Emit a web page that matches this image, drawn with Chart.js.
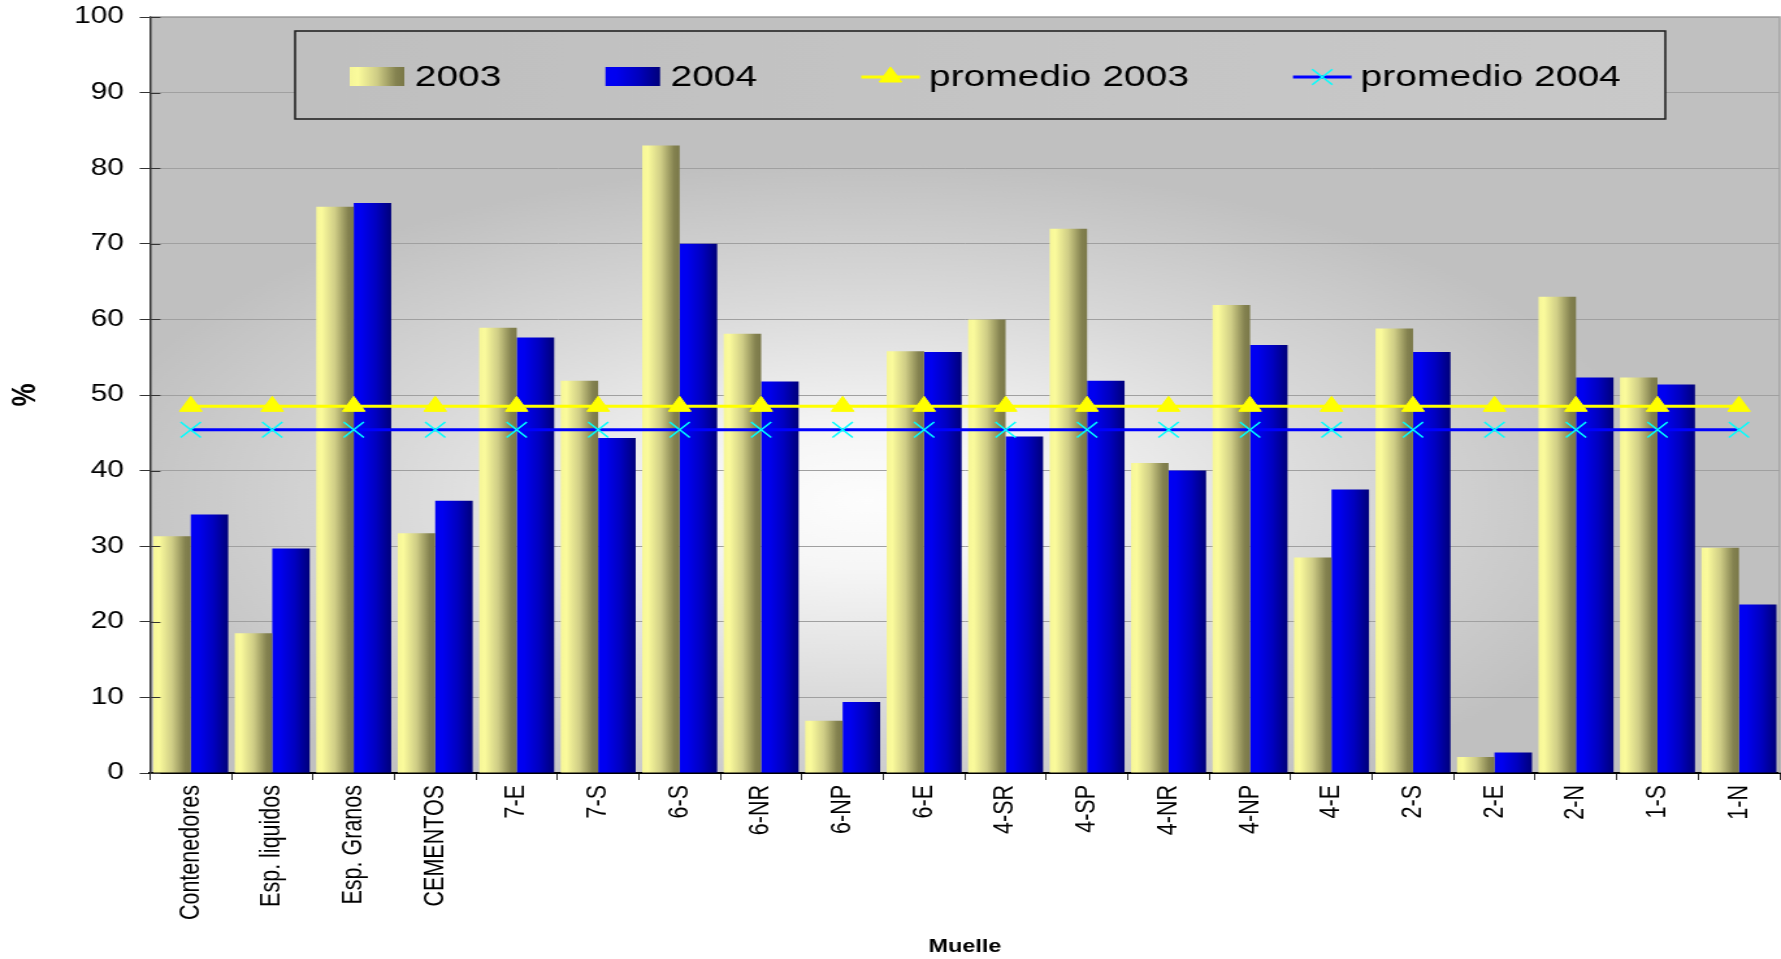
<!DOCTYPE html>
<html>
<head>
<meta charset="utf-8">
<title>Ocupación por muelle</title>
<script src="https://cdn.jsdelivr.net/npm/chart.js@4.4.0/dist/chart.umd.min.js"></script>
<style>
  html, body { margin: 0; padding: 0; background: #fff; overflow: hidden; }
</style>
</head>
<body>
<!-- the original picture is stretched sideways, so the canvas is drawn narrower and widened by css -->
<canvas id="muelleChart" width="1370" height="959" style="display:block;width:1781px;height:959px;"></canvas>
<script>
var categorias = ['Contenedores', 'Esp. liquidos', 'Esp. Granos', 'CEMENTOS', '7-E', '7-S', '6-S', '6-NR', '6-NP', '6-E',
                  '4-SR', '4-SP', '4-NR', '4-NP', '4-E', '2-S', '2-E', '2-N', '1-S', '1-N'];
var valores2003 = [31.3, 18.5, 74.9, 31.7, 58.9, 51.9, 83.0, 58.1, 6.9, 55.8, 60.0, 72.0, 41.0, 61.9, 28.5, 58.8, 2.1, 63.0, 52.3, 29.8];
var valores2004 = [34.2, 29.7, 75.4, 36.0, 57.6, 44.3, 70.0, 51.8, 9.4, 55.7, 44.5, 51.9, 40.0, 56.6, 37.5, 55.7, 2.7, 52.3, 51.4, 22.3];
var promedio2003 = [48.5, 48.5, 48.5, 48.5, 48.5, 48.5, 48.5, 48.5, 48.5, 48.5, 48.5, 48.5, 48.5, 48.5, 48.5, 48.5, 48.5, 48.5, 48.5, 48.5];
var promedio2004 = [45.4, 45.4, 45.4, 45.4, 45.4, 45.4, 45.4, 45.4, 45.4, 45.4, 45.4, 45.4, 45.4, 45.4, 45.4, 45.4, 45.4, 45.4, 45.4, 45.4];
var ticksY = [0, 10, 20, 30, 40, 50, 60, 70, 80, 90, 100];

var fuente = '"Liberation Sans", Arial, sans-serif';
var anchoGrupo = 0.92;

// colour stops for the bar shading (left to right)
var paradas2003 = [[0, '#f6f698'], [0.15, '#fbfb9c'], [0.5, '#cfcd86'], [0.85, '#848250'], [1, '#7a7848']];
var paradas2004 = [[0, '#0000f5'], [0.2, '#0000f0'], [0.6, '#0000c0'], [1, '#00007a']];

Chart.defaults.font.family = fuente;
Chart.defaults.color = '#000';

// gradient across each single bar, built from the x scale
function degradado(paradas, serie) {
  return function(context) {
    var chart = context.chart;
    var xs = chart.scales.x;
    if (context.type !== 'data' || !xs) {
      return paradas[1][1];
    }
    var anchoCat = (xs.right - xs.left) / categorias.length;
    var anchoBarra = anchoCat * anchoGrupo / 2;
    var izq = xs.getPixelForValue(context.dataIndex) - anchoCat * anchoGrupo / 2 + serie * anchoBarra;
    if (!isFinite(izq) || !isFinite(anchoBarra) || anchoBarra <= 0) {
      return paradas[1][1];
    }
    var g = chart.ctx.createLinearGradient(izq, 0, izq + anchoBarra, 0);
    paradas.forEach(function(p) { g.addColorStop(p[0], p[1]); });
    return g;
  };
}

// grey "from centre" fill of the plot area
var fondoPlugin = {
  id: 'fondo',
  beforeDraw: function(chart) {
    var ctx = chart.ctx, a = chart.chartArea;
    ctx.save();
    ctx.beginPath();
    ctx.rect(a.left, a.top, a.right - a.left, a.bottom - a.top);
    ctx.clip();
    ctx.translate(a.left + (a.right - a.left) * 0.44, a.top + (a.bottom - a.top) * 0.64);
    ctx.scale(1.8, 1);
    var g = ctx.createRadialGradient(0, 0, 0, 0, 0, 340);
    g.addColorStop(0, '#fdfdfd');
    g.addColorStop(0.2, '#f6f6f6');
    g.addColorStop(0.6, '#d9d9d9');
    g.addColorStop(1, '#c0c0c0');
    ctx.fillStyle = g;
    ctx.fillRect(-2000, -2000, 4000, 4000);
    ctx.restore();
  }
};

// grey frame on top and right of the plot, then the boxed legend
var marcoPlugin = {
  id: 'marco',
  afterDraw: function(chart) {
    var ctx = chart.ctx, a = chart.chartArea;
    ctx.save();
    ctx.strokeStyle = '#a0a0a0';
    ctx.lineWidth = 1.5;
    ctx.beginPath();
    ctx.moveTo(a.left, a.top);
    ctx.lineTo(a.right, a.top);
    ctx.lineTo(a.right, a.bottom);
    ctx.stroke();

    // y ticks cross the axis line in the original
    ctx.strokeStyle = '#333';
    ctx.lineWidth = 1;
    var ys = chart.scales.y;
    ticksY.forEach(function(v) {
      var py = Math.round(ys.getPixelForValue(v)) + 0.5;
      ctx.beginPath();
      ctx.moveTo(a.left, py);
      ctx.lineTo(a.left + 8, py);
      ctx.stroke();
    });

    var caja = { x: 227, y: 31, w: 1054, h: 88 };
    var gl = ctx.createLinearGradient(caja.x, caja.y, caja.x + caja.w, caja.y + caja.h);
    gl.addColorStop(0, '#bfbfbf');
    gl.addColorStop(1, '#c9c9c9');
    ctx.fillStyle = gl;
    ctx.fillRect(caja.x, caja.y, caja.w, caja.h);
    ctx.strokeStyle = '#1a1a1a';
    ctx.lineWidth = 1.5;
    ctx.strokeRect(caja.x, caja.y, caja.w, caja.h);

    ctx.font = '30px ' + fuente;
    ctx.textBaseline = 'alphabetic';
    var x = caja.x + 42;
    var yMedio = 77;
    chart.data.datasets.forEach(function(ds, i) {
      var textoX;
      if (ds.type === 'bar') {
        var paradas = i === 0 ? paradas2003 : paradas2004;
        var g = ctx.createLinearGradient(x, 0, x + 42, 0);
        paradas.forEach(function(p) { g.addColorStop(p[0], p[1]); });
        ctx.fillStyle = g;
        ctx.fillRect(x, 67, 42, 19);
        textoX = x + 50;
      } else {
        ctx.strokeStyle = ds.borderColor;
        ctx.lineWidth = ds.borderWidth;
        ctx.beginPath();
        ctx.moveTo(x, yMedio);
        ctx.lineTo(x + 45, yMedio);
        ctx.stroke();
        ctx.fillStyle = ds.pointBackgroundColor;
        ctx.strokeStyle = ds.pointBorderColor;
        ctx.lineWidth = ds.pointBorderWidth;
        Chart.helpers.drawPoint(ctx, { pointStyle: ds.pointStyle, radius: ds.pointRadius, borderWidth: ds.pointBorderWidth, rotation: 0 }, x + 22.5, yMedio);
        textoX = x + 52;
      }
      ctx.fillStyle = '#000';
      ctx.fillText(ds.label, textoX, 86);
      x = textoX + ctx.measureText(ds.label).width + 80;
    });
    ctx.restore();
  }
};

var muellechart = document.getElementById('muelleChart');

let muelleChart = new Chart(muellechart, {
    type: 'bar',
    data: {
        labels: categorias,
        datasets: [
            {
                type: 'bar',
                label: '2003',
                data: valores2003,
                backgroundColor: degradado(paradas2003, 0),
                borderWidth: 0,
                categoryPercentage: anchoGrupo,
                barPercentage: 1.0,
                order: 2
            },
            {
                type: 'bar',
                label: '2004',
                data: valores2004,
                backgroundColor: degradado(paradas2004, 1),
                borderWidth: 0,
                categoryPercentage: anchoGrupo,
                barPercentage: 1.0,
                order: 2
            },
            {
                type: 'line',
                label: 'promedio 2003',
                data: promedio2003,
                borderColor: '#ffff00',
                borderWidth: 3,
                pointStyle: 'triangle',
                pointRadius: 10,
                pointBackgroundColor: '#ffff00',
                pointBorderColor: '#ffff00',
                pointBorderWidth: 1,
                order: 1
            },
            {
                type: 'line',
                label: 'promedio 2004',
                data: promedio2004,
                borderColor: '#0000ff',
                borderWidth: 3,
                pointStyle: 'crossRot',
                pointRadius: 11,
                pointBackgroundColor: '#00ffff',
                pointBorderColor: '#00ffff',
                pointBorderWidth: 1.5,
                order: 0
            }
        ]
    },
    options: {
        responsive: false,
        animation: false,
        devicePixelRatio: 1,
        layout: { autoPadding: false, padding: { top: 17, right: 1, left: 0, bottom: 0 } },
        plugins: {
            legend: { display: false },
            tooltip: { enabled: false }
        },
        scales: {
            x: {
                ticks: {
                    autoSkip: false,
                    minRotation: 90,
                    maxRotation: 90,
                    padding: 5,
                    color: '#000',
                    font: { size: 21.5 }
                },
                grid: { offset: true, drawOnChartArea: false, tickLength: 7, tickColor: '#333', tickWidth: 1 },
                border: { color: '#000', width: 2 },
                title: {
                    display: true,
                    text: 'Muelle',
                    color: '#000',
                    font: { size: 18, weight: 'bold' },
                    padding: { top: 0, bottom: 1 }
                },
                afterFit: function(scale) {
                    scale.height = 186;
                    scale.paddingLeft = 0;
                    scale.paddingRight = 0;
                }
            },
            y: {
                min: 0,
                max: 100,
                afterBuildTicks: function(scale) {
                    scale.ticks = ticksY.map(function(v) { return { value: v }; });
                },
                ticks: { padding: 12, color: '#000', font: { size: 23 } },
                grid: { color: '#a0a0a0', lineWidth: 1, tickLength: 8, tickColor: '#333' },
                border: { color: '#333', width: 1.5 },
                title: {
                    display: true,
                    text: '%',
                    color: '#000',
                    font: { size: 26, weight: 'bold' },
                    padding: { top: 4, bottom: 0 }
                },
                afterFit: function(scale) {
                    scale.width = 115.4;
                    scale.paddingTop = 0;
                    scale.paddingBottom = 0;
                }
            }
        }
    },
    plugins: [fondoPlugin, marcoPlugin]
});
</script>
</body>
</html>
